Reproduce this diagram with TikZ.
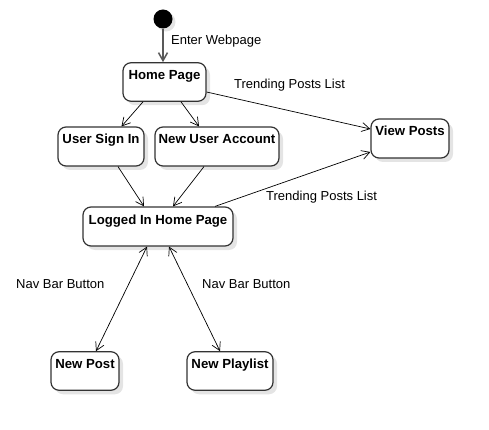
\documentclass[tikz,border=0pt]{standalone}
\usepackage{fontspec}
\setmainfont{Liberation Sans}
\usetikzlibrary{arrows.meta,shadows,calc}
\definecolor{boxline}{HTML}{333333}
\definecolor{shadowgray}{HTML}{E4E4E4}
\begin{document}
\begin{tikzpicture}[x=1pt,y=-1pt,
  every node/.style={font=\fontsize{13}{15}\selectfont},
  state/.style={draw=boxline, line width=1.2pt, rounded corners=8pt, fill=white,
    inner xsep=2pt, inner ysep=7.5pt, text height=9.5pt,
    font=\bfseries\fontsize{13.2}{15}\selectfont,
    drop shadow={shadow xshift=4pt, shadow yshift=-4pt, fill=shadowgray, opacity=1}},
  lbl/.style={anchor=base west, inner sep=0pt},
  flow/.style={draw=black, line width=0.7pt, -{Straight Barb[length=8pt,width=9pt]}},
  both/.style={draw=black, line width=0.7pt, {Straight Barb[length=8pt,width=9pt]}-{Straight Barb[length=8pt,width=9pt]}}
]
\useasboundingbox (0,0) rectangle (489,430);

\node[circle, fill=black, minimum size=19pt, inner sep=0pt,
  drop shadow={shadow xshift=3pt, shadow yshift=-3pt, fill=shadowgray, opacity=1}] (start) at (163,19) {};

\node[state, minimum width=83pt, text depth=14pt] (home) at (164.5,82) {Home Page};
\node[state, minimum width=86pt, text depth=14.5pt] (signin) at (101,146.5) {User Sign In};
\node[state, minimum width=124pt, text depth=14.5pt] (newacct) at (217,146.5) {New User Account};
\node[state, minimum width=78pt, text depth=14.5pt] (view) at (410,138.5) {View Posts};
\node[state, minimum width=150pt, text depth=14.5pt] (logged) at (158,226.5) {Logged In Home Page};
\node[state, minimum width=68pt, text depth=14pt] (newpost) at (85,371) {New Post};
\node[state, minimum width=86pt, text depth=14pt] (playlist) at (230,371) {New Playlist};

\draw[draw=black!65, line width=1.5pt, -{Straight Barb[length=8pt,width=9pt]}] (start) -- (start |- home.north);
\node[lbl] (lEnter) at (171,44.5) {Enter Webpage};

\draw[flow] ([xshift=-21.5pt]home.south) -- ([xshift=20.5pt]signin.north);
\draw[flow] ([xshift=16.5pt]home.south) -- ([xshift=-18pt]newacct.north);
\draw[flow] ([yshift=-10pt]home.east) -- ([yshift=9.5pt]view.west);
\node[lbl] (lTrend1) at (234,88.5) {Trending Posts List};

\draw[flow] ([xshift=17pt]signin.south) -- ([xshift=-14pt]logged.north);
\draw[flow] ([xshift=-13pt]newacct.south) -- ([xshift=15pt]logged.north);
\draw[flow] ([xshift=57pt]logged.north) -- ([yshift=-13.5pt]view.west);
\node[lbl] (lTrend2) at (266,200.5) {Trending Posts List};

\draw[both] ([xshift=-11pt]logged.south) -- ([xshift=11pt]newpost.north);
\draw[both] ([xshift=11pt]logged.south) -- ([xshift=-10pt]playlist.north);
\node[lbl] (lNav1) at (16,288) {Nav Bar Button};
\node[lbl] (lNav2) at (202,288) {Nav Bar Button};
\end{tikzpicture}
\end{document}
